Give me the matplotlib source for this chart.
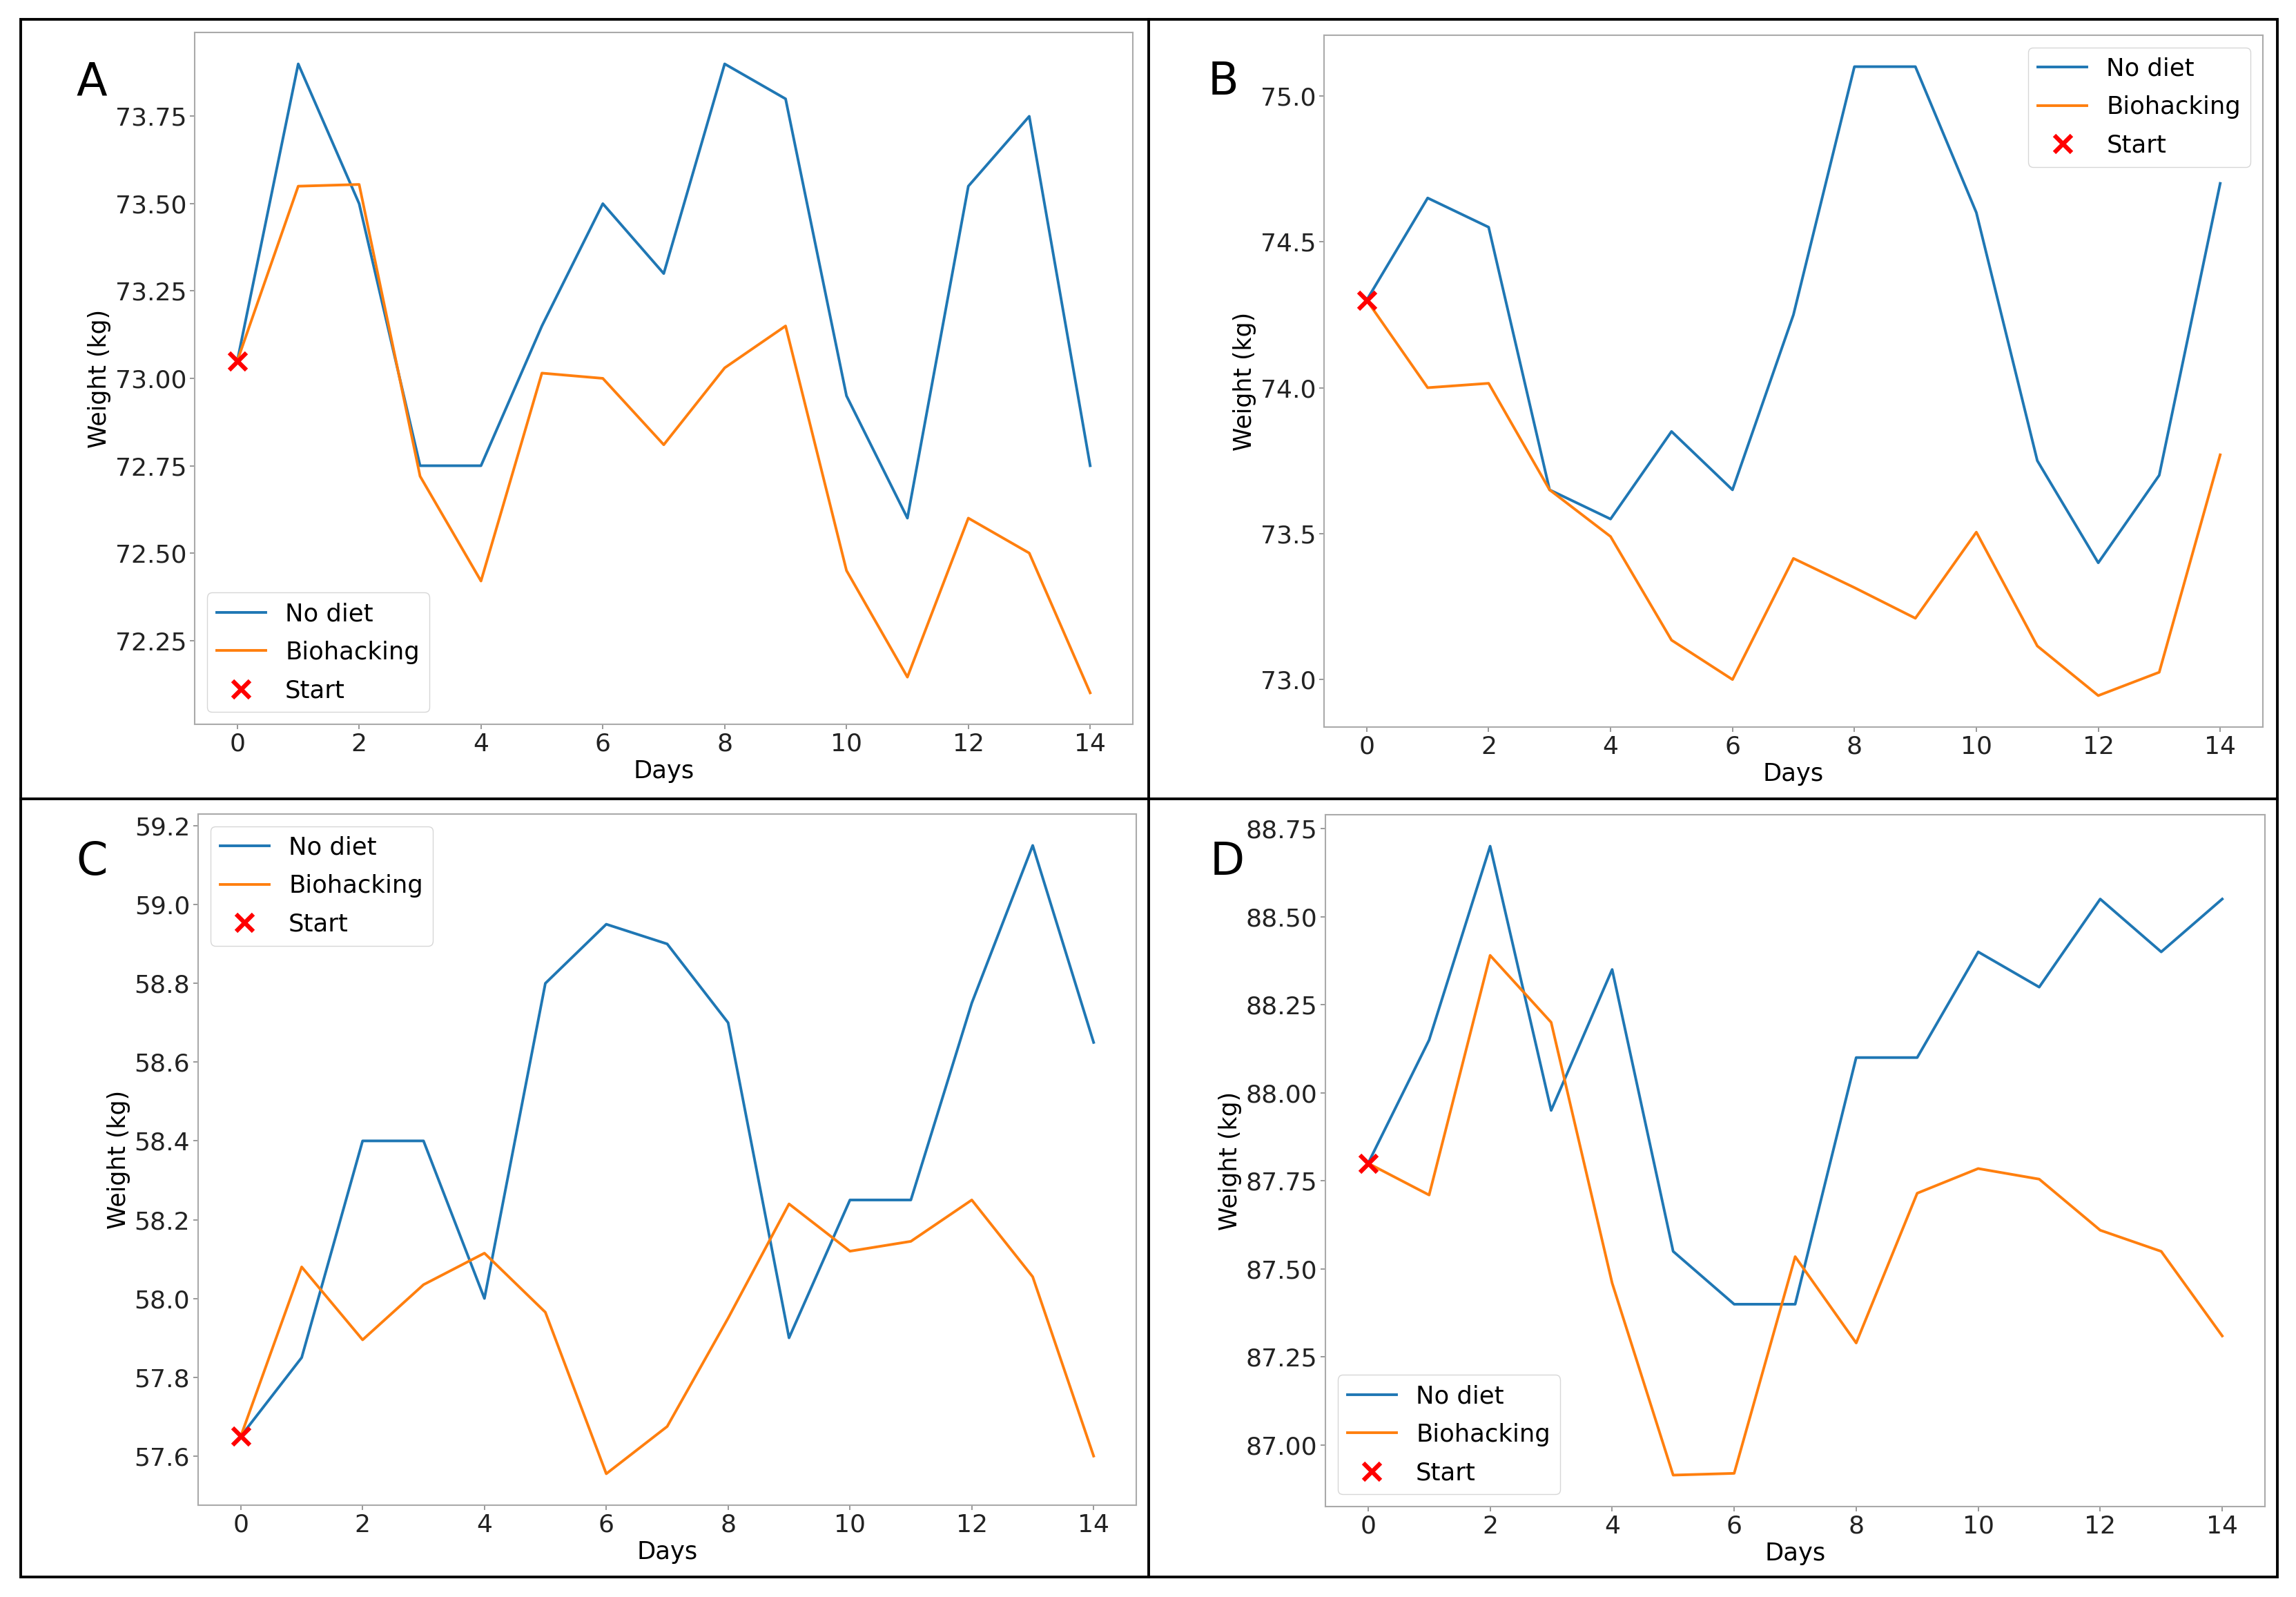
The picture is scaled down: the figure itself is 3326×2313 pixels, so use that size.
import matplotlib
matplotlib.use('agg')
import matplotlib.pyplot as plt
import matplotlib.patches as patches

days = list(range(15))
labels = ['No diet', 'Biohacking', 'Start']
panel_names = ['A', 'B', 'C', 'D']

# panel A
a_no_diet = [73.05, 73.90, 73.50, 72.75, 72.75, 73.15, 73.50, 73.30, 73.90, 73.80,
             72.95, 72.60, 73.55, 73.75, 72.75]
a_biohack = [73.05, 73.55, 73.555, 72.72, 72.42, 73.015, 73.00, 72.81, 73.03, 73.15,
             72.45, 72.145, 72.60, 72.50, 72.10]
# panel B
b_no_diet = [74.30, 74.65, 74.55, 73.65, 73.55, 73.85, 73.65, 74.25, 75.10, 75.10,
             74.60, 73.75, 73.40, 73.70, 74.70]
b_biohack = [74.30, 74.00, 74.015, 73.65, 73.49, 73.135, 73.00, 73.415, 73.315, 73.21,
             73.505, 73.115, 72.945, 73.025, 73.77]
# panel C
c_no_diet = [57.65, 57.85, 58.40, 58.40, 58.00, 58.80, 58.95, 58.90, 58.70, 57.90,
             58.25, 58.25, 58.75, 59.15, 58.65]
c_biohack = [57.65, 58.08, 57.895, 58.035, 58.115, 57.965, 57.555, 57.675, 57.95, 58.24,
             58.12, 58.145, 58.25, 58.055, 57.60]
# panel D
d_no_diet = [87.80, 88.15, 88.70, 87.95, 88.35, 87.55, 87.40, 87.40, 88.10, 88.10,
             88.40, 88.30, 88.55, 88.40, 88.55]
d_biohack = [87.80, 87.71, 88.39, 88.20, 87.46, 86.915, 86.92, 87.535, 87.29, 87.715,
             87.785, 87.755, 87.61, 87.55, 87.31]

no_diet = [a_no_diet, b_no_diet, c_no_diet, d_no_diet]
biohack = [a_biohack, b_biohack, c_biohack, d_biohack]
legend_loc = ['lower left', 'upper right', 'upper left', 'lower left']

plt.rcParams['font.family'] = 'DejaVu Sans'

fig = plt.figure(figsize=(33.26, 23.13), dpi=100)

W, H = 3326, 2313
# axes boxes in pixels: left, top, right, bottom
boxes = [(282, 47, 1641, 1049), (1918, 51, 3278, 1053),
         (287, 1179, 1646, 2180), (1920, 1180, 3281, 2182)]
letter_pos = [(110, 137), (1750, 137), (110, 1267), (1753, 1267)]

for i in range(4):
    l, t, r, b = boxes[i]
    ax = fig.add_axes([l / W, 1 - b / H, (r - l) / W, (b - t) / H])
    ax.plot(days, no_diet[i], color='#1f77b4', lw=2.8, label=labels[0])
    ax.plot(days, biohack[i], color='#ff7f0e', lw=2.8, label=labels[1])
    ax.plot(days[0], no_diet[i][0], 'x', color='red', ms=18, mew=4.5, label=labels[2])
    ax.set_xticks(range(0, 15, 2))
    ax.set_xlabel('Days', fontsize=25.5)
    ax.set_ylabel('Weight (kg)', fontsize=25)
    for s in ax.spines.values():
        s.set_color('#aaaaaa')
        s.set_linewidth(1.5)
    ax.tick_params(colors='#888888', labelcolor='#222222', labelsize=26, length=5, width=1.2)
    ax.legend(loc=legend_loc[i], fontsize=25.5, labelspacing=0.6)
    fig.text(letter_pos[i][0] / W, 1 - letter_pos[i][1] / H, panel_names[i],
             fontsize=47, va='baseline', ha='left')

# panel frames
x0, x1, xm = 30 / W, 3299 / W, 1664 / W
y0, y1, ym = 1 - 2284 / H, 1 - 28 / H, 1 - 1157 / H
fig.add_artist(patches.Rectangle((x0, y0), x1 - x0, y1 - y0, transform=fig.transFigure,
                                 fill=False, lw=2.8, color='black'))
fig.add_artist(plt.Line2D([xm, xm], [y0, y1], transform=fig.transFigure, lw=2.8, color='black'))
fig.add_artist(plt.Line2D([x0, x1], [ym, ym], transform=fig.transFigure, lw=2.8, color='black'))

fig.savefig('out.png', dpi=100)
